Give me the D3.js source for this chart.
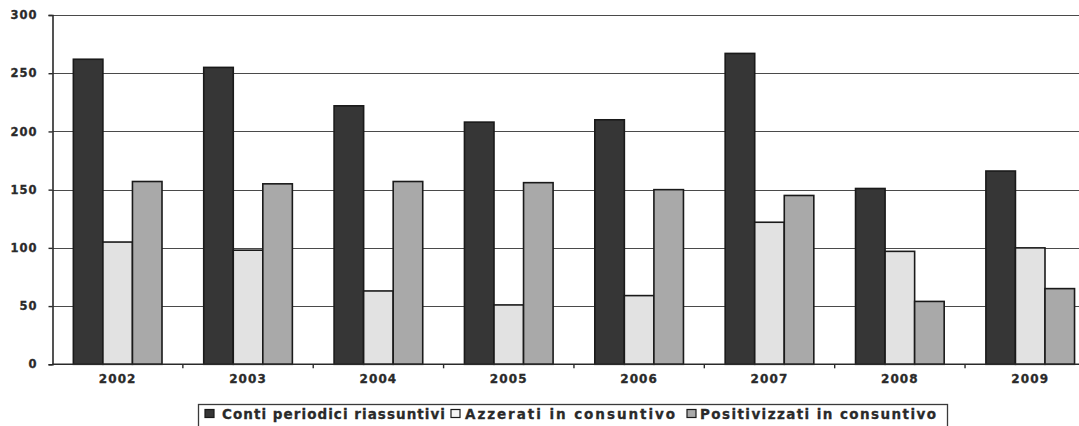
<!DOCTYPE html>
<html>
<head>
<meta charset="utf-8">
<script src="https://cdn.jsdelivr.net/npm/d3@7"></script>
<style>
  html, body { margin: 0; padding: 0; background: #ffffff; }
  svg { display: block; }
  text { font-family: "DejaVu Sans", Verdana, sans-serif; font-weight: bold; fill: #2a2a2a; }
</style>
</head>
<body>
<svg id="chart" width="1079" height="426"></svg>
<script>
// ---- data ----
const years = ["2002", "2003", "2004", "2005", "2006", "2007", "2008", "2009"];
const seriesNames = ["Conti periodici riassuntivi", "Azzerati in consuntivo", "Positivizzati in consuntivo"];
const conti = [262, 255, 222, 208, 210, 267, 151, 166];
const azzerati = [105, 98, 63, 51, 59, 122, 97, 100];
const positivizzati = [157, 155, 157, 156, 150, 145, 54, 65];
const yTicks = [0, 50, 100, 150, 200, 250, 300];
const seriesColors = ["#363636", "#e2e2e2", "#a9a9a9"];

const seriesValues = [conti, azzerati, positivizzati];

const svg = d3.select("#chart");
const W = 1079, H = 426;
const plotLeft = 52.5, plotTop = 15, plotBottom = 364.3;
const plotRight = 1095.4;

const x0 = d3.scaleBand().domain(years).range([plotLeft, plotRight]).paddingInner(0.32).paddingOuter(0.16);
const x1 = d3.scaleBand().domain(d3.range(seriesNames.length)).range([0, x0.bandwidth()]);
const y = d3.scaleLinear().domain([0, 300]).range([plotBottom, plotTop]);

// gridlines
svg.append("g").selectAll("line").data(yTicks.filter(t => t > 0)).join("line")
  .attr("x1", plotLeft).attr("x2", W)
  .attr("y1", d => Math.round(y(d)) + 0.5).attr("y2", d => Math.round(y(d)) + 0.5)
  .attr("stroke", "#4a4a4a").attr("stroke-width", 1.2);

// bars
const groups = svg.append("g").selectAll("g").data(years).join("g")
  .attr("transform", d => `translate(${x0(d)},0)`);
groups.selectAll("rect").data((d, i) => seriesValues.map((s, k) => ({ k, v: s[i] }))).join("rect")
  .attr("x", d => x1(d.k))
  .attr("width", x1.bandwidth())
  .attr("y", d => y(d.v))
  .attr("height", d => y(0) - y(d.v))
  .attr("fill", d => seriesColors[d.k])
  .attr("stroke", "#1a1a1a").attr("stroke-width", 1.6);

// y axis
const yAxis = d3.axisLeft(y).tickValues(yTicks).tickSize(4).tickPadding(11);
const gy = svg.append("g").attr("transform", `translate(${plotLeft},0)`).call(yAxis);
gy.select(".domain").attr("stroke", "#2a2a2a").attr("stroke-width", 1.6);
gy.selectAll(".tick line").attr("stroke", "#2a2a2a").attr("stroke-width", 1.4);
gy.selectAll(".tick text").style("font-size", "11.5px").style("letter-spacing", "1px")
  .style("font-family", "'DejaVu Sans', sans-serif").style("font-weight", "bold")
  .attr("fill", "#2a2a2a").attr("stroke", "#2a2a2a").attr("stroke-width", 0.3);

// x axis line
svg.append("line").attr("x1", plotLeft).attr("x2", W).attr("y1", plotBottom).attr("y2", plotBottom)
  .attr("stroke", "#2a2a2a").attr("stroke-width", 1.6);
// category boundary ticks
svg.append("g").selectAll("line").data(years.slice(1)).join("line")
  .attr("x1", d => x0(d) - x0.step() * x0.paddingInner() / 2)
  .attr("x2", d => x0(d) - x0.step() * x0.paddingInner() / 2)
  .attr("y1", plotBottom).attr("y2", plotBottom + 4)
  .attr("stroke", "#2a2a2a").attr("stroke-width", 1.4);
// year labels
svg.append("g").selectAll("text").data(years).join("text")
  .attr("x", d => x0(d) + x0.bandwidth() / 2)
  .attr("y", 383)
  .attr("text-anchor", "middle")
  .attr("stroke", "#2a2a2a").attr("stroke-width", 0.3)
  .style("font-size", "12px").style("letter-spacing", "1.1px")
  .text(d => d);

// legend
const legend = svg.append("g");
legend.append("rect").attr("x", 198.5).attr("y", 404.5).attr("width", 749).attr("height", 24)
  .attr("fill", "#fff").attr("stroke", "#3a3a3a").attr("stroke-width", 1.3);
const legendItems = [
  { sq: 205, tx: 222, w: 223 },
  { sq: 451, tx: 465, w: 210 },
  { sq: 687, tx: 700, w: 236 }
];
legendItems.forEach((it, k) => {
  legend.append("rect").attr("x", it.sq).attr("y", 409.5).attr("width", 9).attr("height", 8)
    .attr("fill", k === 1 ? "#f4f4f4" : seriesColors[k])
    .attr("stroke", "#1a1a1a").attr("stroke-width", 1.2);
  const t = legend.append("text").attr("x", it.tx).attr("y", 418.5)
    .attr("stroke", "#2a2a2a").attr("stroke-width", 0.3)
    .style("font-size", "13.5px").text(seriesNames[k]);
  const nat = t.node().getComputedTextLength();
  const n = seriesNames[k].length;
  t.style("letter-spacing", ((it.w - nat) / (n - 1)) + "px");
});
</script>
</body>
</html>
